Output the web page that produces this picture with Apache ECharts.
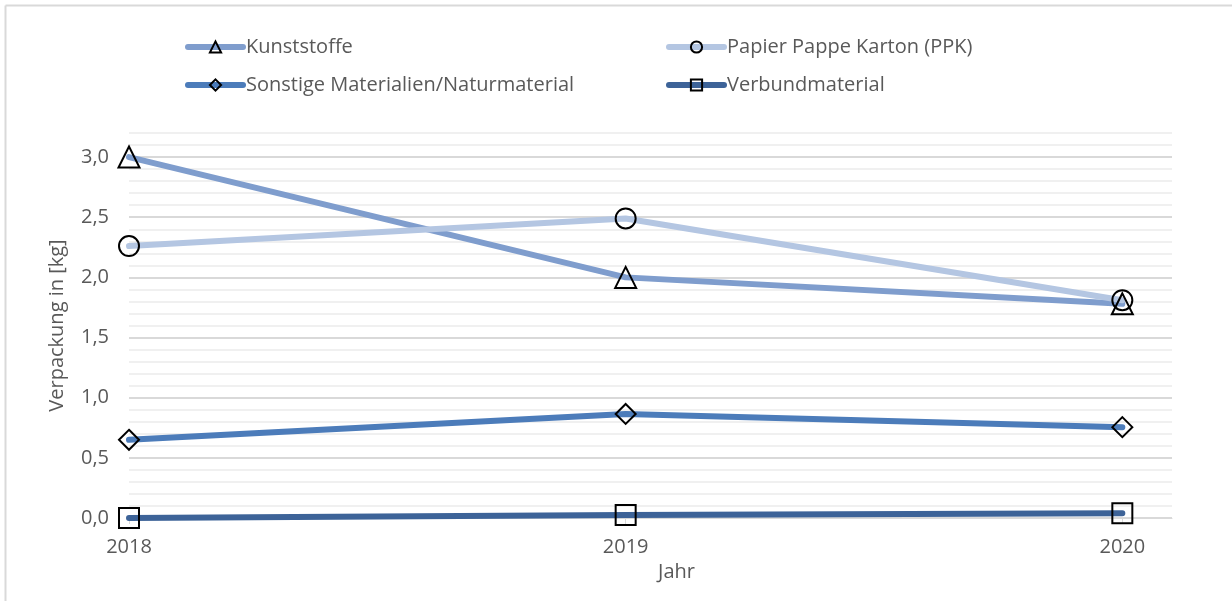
<!DOCTYPE html>
<html>
<head>
<meta charset="utf-8">
<script src="https://cdn.jsdelivr.net/npm/echarts@6/dist/echarts.min.js"></script>
<style>
  html, body { margin: 0; padding: 0; background: #fff; }
  #chart { width: 1232px; height: 601px; }
</style>
</head>
<body>
<div id="chart"></div>
<script>
const years = [2018, 2019, 2020]
const kunststoffe = [3.0, 2.0, 1.78]
const ppk = [2.26, 2.49, 1.81]
const sonstige = [0.65, 0.865, 0.755]
const verbund = [0.0, 0.025, 0.04]

const font = '"Open Sans", sans-serif'
const textColor = '#595959'

const chart = echarts.init(document.getElementById('chart'), null, { renderer: 'canvas' })

function mk(name, values, color, symbol) {
  return {
    name,
    type: 'line',
    data: years.map((y, i) => [y, values[i]]),
    symbol,
    symbolSize: symbol === 'triangle' ? 21 : 20,
    showAllSymbol: true,
    lineStyle: { color, width: 6, cap: 'round' },
    itemStyle: { color: 'transparent', borderColor: '#000', borderWidth: 2 },
    emphasis: { disabled: true },
    animation: false,
  }
}

const legendBase = {
  orient: 'vertical', top: 37, itemGap: 18, padding: 0,
  itemWidth: 55, itemHeight: 14,
  lineStyle: { width: 6, cap: 'round' },
  textStyle: { fontFamily: font, fontSize: 20, color: textColor, lineHeight: 20, padding: [0, 0, 0, -2] },
}

chart.setOption({
  animation: false,
  legend: [
    Object.assign({}, legendBase, { left: 185, data: ['Kunststoffe', 'Sonstige Materialien/Naturmaterial'] }),
    Object.assign({}, legendBase, { left: 666, data: ['Papier Pappe Karton (PPK)', 'Verbundmaterial'] }),
  ],
  grid: { left: 129, right: 60, top: 133, bottom: 83 },
  xAxis: {
    type: 'value',
    min: 2018,
    max: 2020.1,
    interval: 1,
    name: 'Jahr',
    nameLocation: 'middle',
    nameGap: 41,
    nameTextStyle: { fontFamily: font, fontSize: 20, color: textColor, padding: [0, 0, 0, 52] },
    axisLine: { show: true, lineStyle: { color: '#d9d9d9', width: 1 } },
    axisTick: { show: true, customValues: years, length: 6, lineStyle: { color: '#d9d9d9' } },
    axisLabel: {
      customValues: years,
      margin: 19,
      fontFamily: font, fontSize: 20, color: textColor,
      formatter: v => String(v),
    },
    splitLine: { show: false },
  },
  yAxis: {
    type: 'value',
    min: 0,
    max: 3.2,
    interval: 0.1,
    name: 'Verpackung in [kg]',
    nameLocation: 'middle',
    nameGap: 62,
    nameTextStyle: { fontFamily: font, fontSize: 20, color: textColor },
    axisLine: { show: false },
    axisTick: { show: false },
    axisLabel: {
      margin: 20,
      fontFamily: font, fontSize: 20, color: textColor,
      formatter: v => {
        const r = Math.round(v * 10)
        return r % 5 === 0 ? (r / 10).toFixed(1).replace('.', ',') : ''
      },
    },
    splitLine: {
      show: true,
      lineStyle: { color: ['#d9d9d9', '#f0f0f0', '#f0f0f0', '#f0f0f0', '#f0f0f0'], width: 2 },
    },
  },
  graphic: [
    { type: 'line', shape: { x1: 5.5, y1: 5.5, x2: 1232, y2: 5.5 }, style: { stroke: '#d9d9d9', lineWidth: 2 }, silent: true },
    { type: 'line', shape: { x1: 5.5, y1: 5.5, x2: 5.5, y2: 601 }, style: { stroke: '#d9d9d9', lineWidth: 2 }, silent: true },
  ],
  series: [
    mk('Kunststoffe', kunststoffe, '#7f9dcd', 'triangle'),
    mk('Papier Pappe Karton (PPK)', ppk, '#b4c6e2', 'circle'),
    mk('Sonstige Materialien/Naturmaterial', sonstige, '#4c7cba', 'diamond'),
    mk('Verbundmaterial', verbund, '#3d6398', 'rect'),
  ],
})

window.addEventListener('resize', () => chart.resize())
</script>
</body>
</html>
